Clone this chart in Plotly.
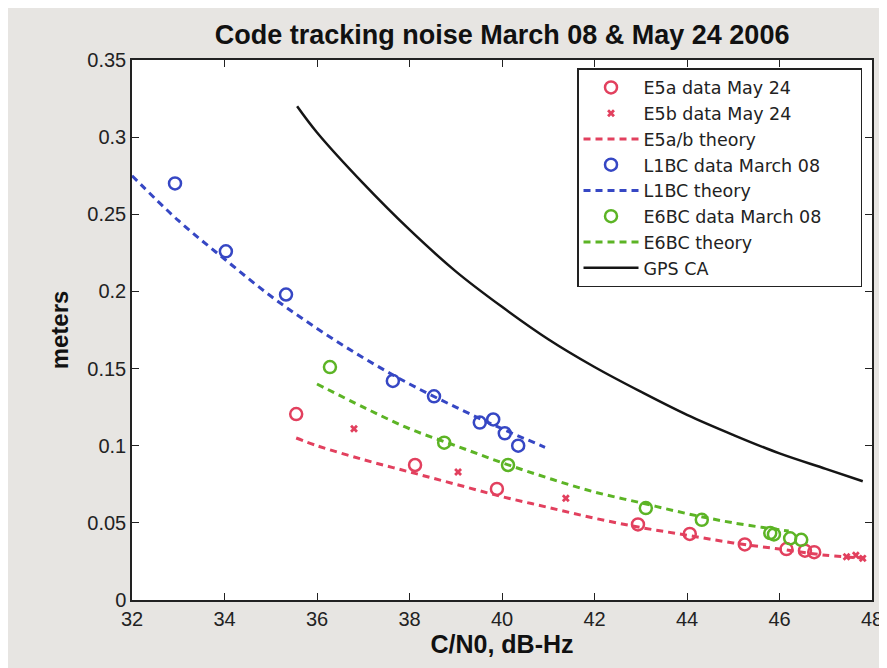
import plotly.graph_objects as go

# E5a data (circles) May 24
e5a_x = [35.55, 38.12, 39.89, 42.94, 44.06, 45.25, 46.15, 46.55, 46.75]
e5a_y = [0.1205, 0.0875, 0.072, 0.049, 0.0428, 0.036, 0.033, 0.032, 0.031]
# E5b data (crosses) May 24
e5b_x = [36.8, 39.05, 41.38, 47.45, 47.65, 47.8]
e5b_y = [0.111, 0.083, 0.066, 0.028, 0.029, 0.027]
# E5a/b theory
e5t_x = [35.55, 36, 37, 38, 39, 40, 41, 42, 43, 44, 45, 46, 47, 47.9]
e5t_y = [0.105, 0.100, 0.091, 0.083, 0.075, 0.067, 0.060, 0.053, 0.047, 0.042, 0.037, 0.033, 0.029, 0.027]
# L1BC data March 08
l1_x = [32.93, 34.03, 35.33, 37.64, 38.53, 39.52, 39.81, 40.06, 40.35]
l1_y = [0.270, 0.226, 0.198, 0.142, 0.132, 0.115, 0.117, 0.108, 0.100]
# L1BC theory
l1t_x = [32, 33, 34, 35, 36, 37, 38, 39, 40, 40.93]
l1t_y = [0.275, 0.246, 0.221, 0.197, 0.176, 0.157, 0.140, 0.125, 0.111, 0.099]
# E6BC data March 08
e6_x = [36.28, 38.75, 40.13, 43.11, 44.32, 45.80, 45.88, 46.23, 46.47]
e6_y = [0.151, 0.102, 0.0875, 0.0596, 0.052, 0.0434, 0.0425, 0.040, 0.039]
# E6BC theory
e6t_x = [36.0, 37, 38, 39, 40, 41, 42, 43, 44, 45, 46, 46.2]
e6t_y = [0.140, 0.125, 0.111, 0.100, 0.089, 0.079, 0.070, 0.063, 0.056, 0.050, 0.0455, 0.0447]
# GPS CA
gps_x = [35.57, 36, 37, 38, 39, 40, 41, 42, 43, 44, 45, 46, 47, 47.8]
gps_y = [0.320, 0.303, 0.270, 0.240, 0.213, 0.190, 0.169, 0.151, 0.135, 0.120, 0.107, 0.095, 0.085, 0.077]

series_names = ["E5a data May 24", "E5b data May 24", "E5a/b theory", "L1BC data March 08",
                "L1BC theory", "E6BC data March 08", "E6BC theory", "GPS CA"]

x_ticks = [32, 34, 36, 38, 40, 42, 44, 46, 48]
y_ticks = [0, 0.05, 0.1, 0.15, 0.2, 0.25, 0.3, 0.35]
y_tick_text = ["0", "0.05", "0.1", "0.15", "0.2", "0.25", "0.3", "0.35"]

RED = "#e2405e"
BLUE = "#3647c4"
GREEN = "#5cb425"
BLACK = "#151515"
DASH = "7px,5px"
PAD = "\u00a0" * 6  # widen the legend box on the right like the original

fig = go.Figure()
fig.add_trace(go.Scatter(x=e5a_x, y=e5a_y, mode="markers", name=series_names[0],
                         marker=dict(symbol="circle-open", size=12, color=RED, line=dict(width=2.5, color=RED))))
fig.add_trace(go.Scatter(x=e5b_x, y=e5b_y, mode="markers", name=series_names[1],
                         marker=dict(symbol="x", size=7, color=RED, line=dict(width=0))))
fig.add_trace(go.Scatter(x=e5t_x, y=e5t_y, mode="lines", name=series_names[2],
                         line=dict(color=RED, width=3, dash=DASH, shape="spline")))
fig.add_trace(go.Scatter(x=l1_x, y=l1_y, mode="markers", name=series_names[3],
                         marker=dict(symbol="circle-open", size=12, color=BLUE, line=dict(width=2.5, color=BLUE))))
fig.add_trace(go.Scatter(x=l1t_x, y=l1t_y, mode="lines", name=series_names[4],
                         line=dict(color=BLUE, width=3, dash=DASH, shape="spline")))
fig.add_trace(go.Scatter(x=e6_x, y=e6_y, mode="markers", name=series_names[5] + PAD,
                         marker=dict(symbol="circle-open", size=12, color=GREEN, line=dict(width=2.5, color=GREEN))))
fig.add_trace(go.Scatter(x=e6t_x, y=e6t_y, mode="lines", name=series_names[6],
                         line=dict(color=GREEN, width=3, dash=DASH, shape="spline")))
fig.add_trace(go.Scatter(x=gps_x, y=gps_y, mode="lines", name=series_names[7],
                         line=dict(color=BLACK, width=2.5, shape="spline")))

FONT = "Liberation Sans, Arial, sans-serif"
fig.update_layout(
    width=887, height=668,
    margin=dict(l=124, r=23, t=52, b=76),
    paper_bgcolor="#e7e5e2",
    plot_bgcolor="white",
    font=dict(family=FONT, size=20, color="#222222"),
    title=dict(text="<b>Code tracking noise March 08 &amp; May 24 2006</b>",
               x=0.557, xanchor="center", y=0.96, yanchor="middle",
               font=dict(size=27, color="#111111")),
    showlegend=True,
    legend=dict(x=0.9865, xanchor="right", y=0.985, yanchor="top",
                bgcolor="white", bordercolor="#222222", borderwidth=1.5,
                font=dict(family="DejaVu Sans, sans-serif", size=17.5, color="#222222"),
                itemwidth=55, tracegroupgap=0),
)
fig.update_xaxes(range=[32, 48], tickvals=x_ticks, ticks="inside", ticklen=7,
                 showline=True, linecolor="#222222", linewidth=1.5, mirror="ticks",
                 showgrid=False, zeroline=False, tickcolor="#222222",
                 title=dict(text="<b>C/N0, dB-Hz</b>", font=dict(size=25, color="#111111"), standoff=6))
fig.update_yaxes(range=[0, 0.35], tickvals=y_ticks, ticktext=y_tick_text, ticks="inside", ticklen=7,
                 showline=True, linecolor="#222222", linewidth=1.5, mirror="ticks",
                 showgrid=False, zeroline=False, tickcolor="#222222",
                 title=dict(text="<b>meters</b>", font=dict(size=24, color="#111111"), standoff=12))

fig.write_html("out.html")
